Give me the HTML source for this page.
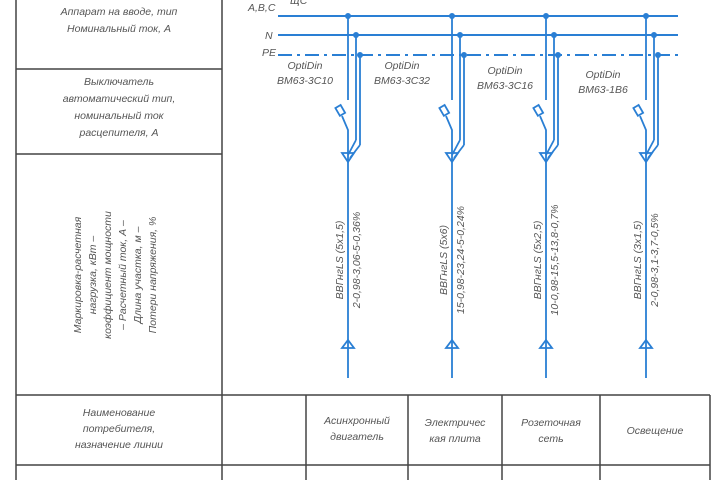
<!DOCTYPE html>
<html><head><meta charset="utf-8"><style>
body{margin:0;background:#fff}
svg{display:block}
text{font-family:"Liberation Sans",sans-serif;font-style:italic;fill:#555;font-size:10.5px}
</style></head><body>
<svg width="720" height="480" viewBox="0 0 720 480">
<g stroke="#444" stroke-width="1.5" fill="none">
<line x1="16" y1="0" x2="16" y2="480"/>
<line x1="222" y1="0" x2="222" y2="480"/>
<line x1="16" y1="69" x2="222" y2="69"/>
<line x1="16" y1="154" x2="222" y2="154"/>
<line x1="16" y1="395" x2="710" y2="395"/>
<line x1="16" y1="465" x2="710" y2="465"/>
<line x1="306" y1="395" x2="306" y2="480"/>
<line x1="408" y1="395" x2="408" y2="480"/>
<line x1="502" y1="395" x2="502" y2="480"/>
<line x1="600" y1="395" x2="600" y2="480"/>
<line x1="710" y1="395" x2="710" y2="480"/>
</g>
<g text-anchor="middle">
<text x="119" y="15">Аппарат на вводе, тип</text>
<text x="119" y="32">Номинальный ток, А</text>
<text x="119" y="85">Выключатель</text>
<text x="119" y="102">автоматический тип,</text>
<text x="119" y="119">номинальный ток</text>
<text x="119" y="136">расцепителя, А</text>
<g transform="translate(119,275) rotate(-90)">
<text x="0" y="-38">Маркировка-расчетная</text>
<text x="0" y="-23">нагрузка, кВт –</text>
<text x="0" y="-8">коэффициент мощности</text>
<text x="0" y="7">– Расчетный ток, А –</text>
<text x="0" y="22">Длина участка, м –</text>
<text x="0" y="37">Потери напряжения, %</text>
</g>
<text x="119" y="416">Наименование</text>
<text x="119" y="432">потребителя,</text>
<text x="119" y="448">назначение линии</text>
<text x="357" y="424">Асинхронный</text>
<text x="357" y="440">двигатель</text>
<text x="455" y="426">Электричес</text>
<text x="455" y="442">кая плита</text>
<text x="551" y="426">Розеточная</text>
<text x="551" y="442">сеть</text>
<text x="655" y="434">Освещение</text>
</g>
<text x="248" y="11">A,B,C</text>
<text x="290" y="4" font-size="7">ЩС</text>
<text x="265" y="39">N</text>
<text x="262" y="56">PE</text>
<g stroke="#2a7fd4" stroke-width="2" fill="none">
<line x1="278" y1="16" x2="678" y2="16"/>
<line x1="278" y1="35" x2="678" y2="35"/>
<line x1="278" y1="55" x2="678" y2="55" stroke-dasharray="14,5,3,5"/>
</g>
<g stroke="#2a7fd4" stroke-width="1.8" fill="none">
<g transform="translate(348,0)">
<line x1="0" y1="16" x2="0" y2="100"/><line x1="8" y1="35" x2="8" y2="140"/><line x1="12" y1="55" x2="12" y2="145"/>
<line x1="8" y1="140" x2="0" y2="155"/><line x1="12" y1="145" x2="2" y2="158"/>
<rect x="-11" y="106" width="6" height="9" transform="rotate(-30 -8 110)"/>
<path d="M-6 116 L0 130 L0 378"/>
<path d="M-6 153 L6 153 L0 162 Z"/>
<path d="M-6 348 L6 348 L0 340 Z"/>
</g>
<g transform="translate(452,0)">
<line x1="0" y1="16" x2="0" y2="100"/><line x1="8" y1="35" x2="8" y2="140"/><line x1="12" y1="55" x2="12" y2="145"/>
<line x1="8" y1="140" x2="0" y2="155"/><line x1="12" y1="145" x2="2" y2="158"/>
<rect x="-11" y="106" width="6" height="9" transform="rotate(-30 -8 110)"/>
<path d="M-6 116 L0 130 L0 378"/>
<path d="M-6 153 L6 153 L0 162 Z"/>
<path d="M-6 348 L6 348 L0 340 Z"/>
</g>
<g transform="translate(546,0)">
<line x1="0" y1="16" x2="0" y2="100"/><line x1="8" y1="35" x2="8" y2="140"/><line x1="12" y1="55" x2="12" y2="145"/>
<line x1="8" y1="140" x2="0" y2="155"/><line x1="12" y1="145" x2="2" y2="158"/>
<rect x="-11" y="106" width="6" height="9" transform="rotate(-30 -8 110)"/>
<path d="M-6 116 L0 130 L0 378"/>
<path d="M-6 153 L6 153 L0 162 Z"/>
<path d="M-6 348 L6 348 L0 340 Z"/>
</g>
<g transform="translate(646,0)">
<line x1="0" y1="16" x2="0" y2="100"/><line x1="8" y1="35" x2="8" y2="140"/><line x1="12" y1="55" x2="12" y2="145"/>
<line x1="8" y1="140" x2="0" y2="155"/><line x1="12" y1="145" x2="2" y2="158"/>
<rect x="-11" y="106" width="6" height="9" transform="rotate(-30 -8 110)"/>
<path d="M-6 116 L0 130 L0 378"/>
<path d="M-6 153 L6 153 L0 162 Z"/>
<path d="M-6 348 L6 348 L0 340 Z"/>
</g>
</g>
<g fill="#2a7fd4">
<circle cx="348" cy="16" r="3"/><circle cx="356" cy="35" r="3"/><circle cx="360" cy="55" r="3"/>
<circle cx="452" cy="16" r="3"/><circle cx="460" cy="35" r="3"/><circle cx="464" cy="55" r="3"/>
<circle cx="546" cy="16" r="3"/><circle cx="554" cy="35" r="3"/><circle cx="558" cy="55" r="3"/>
<circle cx="646" cy="16" r="3"/><circle cx="654" cy="35" r="3"/><circle cx="658" cy="55" r="3"/>
</g>
<g text-anchor="middle">
<text x="305" y="69">OptiDin</text><text x="305" y="84">ВМ63-3С10</text>
<text x="402" y="69">OptiDin</text><text x="402" y="84">ВМ63-3С32</text>
<text x="505" y="74">OptiDin</text><text x="505" y="89">ВМ63-3С16</text>
<text x="603" y="78">OptiDin</text><text x="603" y="93">ВМ63-1В6</text>
</g>
<g text-anchor="middle">
<text transform="translate(343,260) rotate(-90)">ВВГнгLS (5х1,5)</text>
<text transform="translate(360,260) rotate(-90)">2-0,98-3,06-5-0,36%</text>
<text transform="translate(447,260) rotate(-90)">ВВГнгLS (5х6)</text>
<text transform="translate(464,260) rotate(-90)">15-0,98-23,24-5-0,24%</text>
<text transform="translate(541,260) rotate(-90)">ВВГнгLS (5х2,5)</text>
<text transform="translate(558,260) rotate(-90)">10-0,98-15,5-13,8-0,7%</text>
<text transform="translate(641,260) rotate(-90)">ВВГнгLS (3х1,5)</text>
<text transform="translate(658,260) rotate(-90)">2-0,98-3,1-3,7-0,5%</text>
</g>
</svg>
</body></html>
